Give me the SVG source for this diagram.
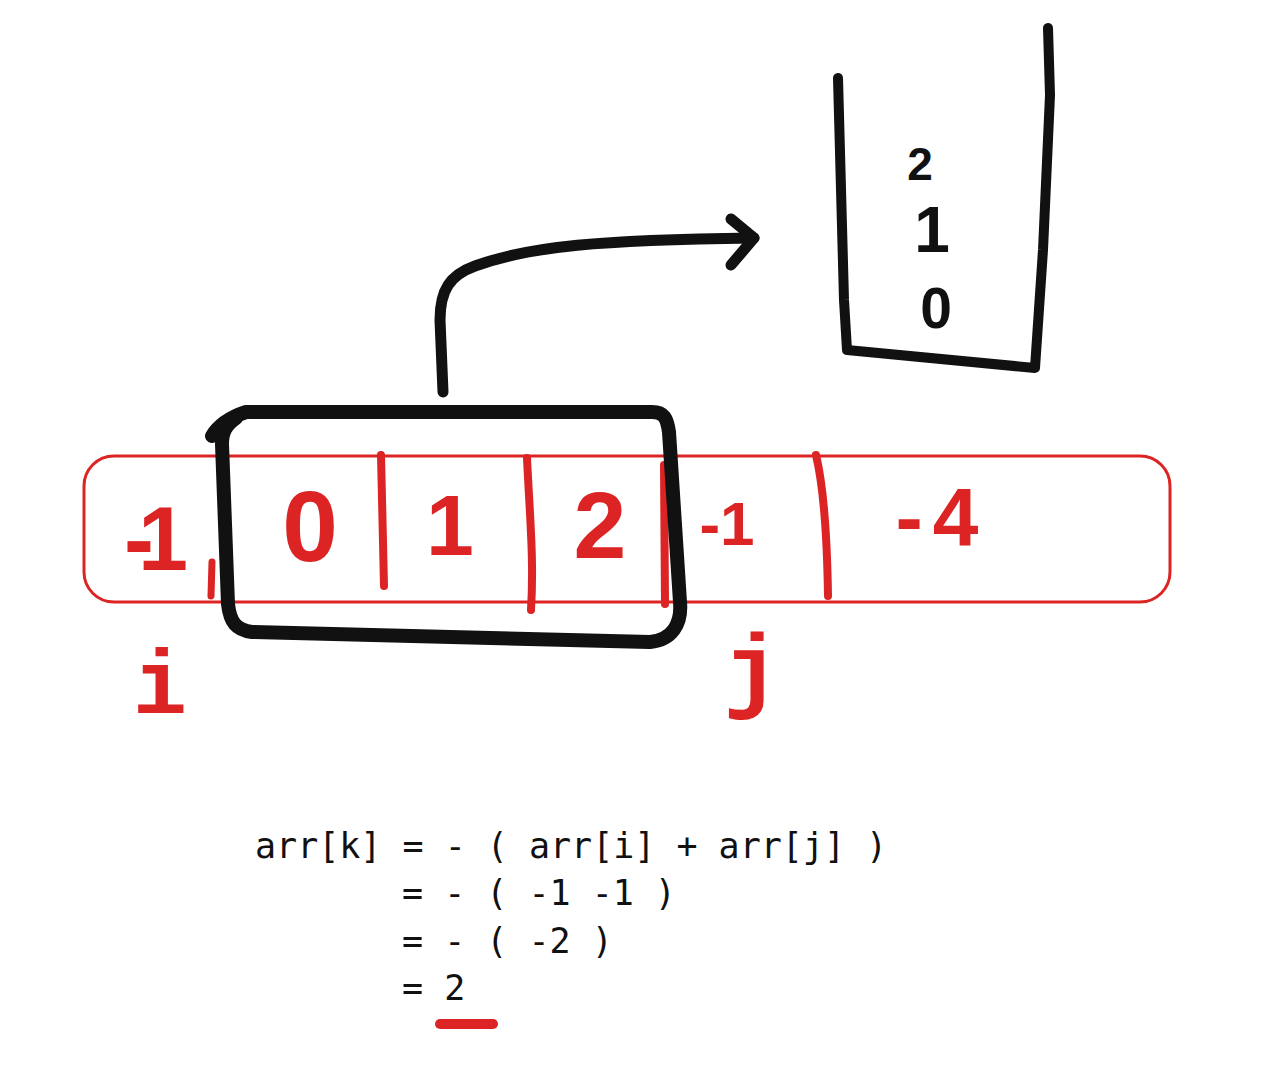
<svg xmlns="http://www.w3.org/2000/svg" width="1278" height="1084" viewBox="0 0 1278 1084">
<style>
.red{stroke:#dc2424;fill:none;stroke-linecap:round;stroke-linejoin:round}
.blk{stroke:#111;fill:none;stroke-linecap:round;stroke-linejoin:round}
.rd{fill:#dc2424;font-family:"Liberation Sans",Arial,sans-serif;font-weight:bold;text-anchor:middle}
.bd{fill:#111;font-family:"Liberation Sans",Arial,sans-serif;font-weight:bold;text-anchor:middle}
.code{fill:#111;font-family:"DejaVu Sans Mono","Liberation Mono",monospace;font-size:35px}
.lbl{fill:#dc2424;font-family:"Liberation Mono","DejaVu Sans Mono",monospace;font-weight:bold;text-anchor:middle}
</style>
<rect width="1278" height="1084" fill="#fff"/>
<g id="array">
<rect x="84" y="456" width="1086" height="146" rx="30" class="red" stroke-width="3"/>
<path class="red" stroke-width="7" d="M212 562 L211 596"/>
<path class="red" stroke-width="8" d="M381 455 L384 586"/>
<path class="red" stroke-width="8" d="M527 458 C530 520 534 560 531 610"/>
<path class="red" stroke-width="8" d="M664 465 L665 604"/>
<path class="red" stroke-width="8" d="M816 455 C822 480 827 530 828 596"/>
<text class="rd" x="148" y="570" font-size="90" letter-spacing="-16">-1</text>
<text class="rd" x="310" y="561" font-size="100">0</text>
<text class="rd" x="450" y="555" font-size="86">1</text>
<text class="rd" x="600" y="558" font-size="95">2</text>
<text class="rd" x="727" y="545" font-size="62">-1</text>
<text class="rd" x="942" y="545" font-size="82" letter-spacing="10">-4</text>
</g>
<g id="window">
<path class="blk" stroke-width="14" d="M212 436 C218 426 228 418 246 412 L652 412 C664 412 667 418 669 432 L680 602 C682 624 672 640 650 642 L252 632 C236 630 230 622 228 604 L222 444 C222 432 226 425 236 418"/>
</g>
<g id="stack">
<path class="blk" stroke-width="10" d="M838 78 L844 300 L847 350 L1035 368 L1043 250 L1050 95 L1048 28"/>
<text class="bd" x="920" y="180" font-size="46">2</text>
<text class="bd" x="932" y="252" font-size="64">1</text>
<text class="bd" x="936" y="328" font-size="57">0</text>
</g>
<g id="connectors">
<path class="blk" stroke-width="11" d="M443 392 L440 320 C440 290 450 275 475 266 C530 246 600 240 754 238"/>
<path class="blk" stroke-width="11" d="M731 219 L754 238 L731 265"/>
</g>
<g id="labels">
<text class="lbl" x="160" y="713" font-size="90">i</text>
<text class="lbl" x="752" y="700" font-size="95">j</text>
</g>
<g id="formula">
<text class="code" x="255" y="858" xml:space="preserve">arr[k] = - ( arr[i] + arr[j] )</text>
<text class="code" x="402" y="905" xml:space="preserve">= - ( -1 -1 )</text>
<text class="code" x="402" y="953" xml:space="preserve">= - ( -2 )</text>
<text class="code" x="402" y="1000" xml:space="preserve">= 2</text>
<path class="red" stroke-width="10" d="M440 1024 L493 1024"/>
</g>
</svg>
